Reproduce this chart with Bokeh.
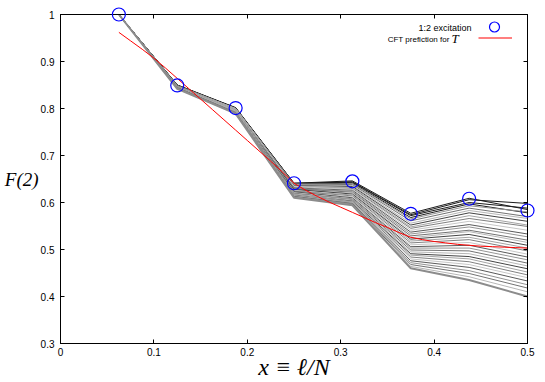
from bokeh.plotting import figure
from bokeh.models import (Range1d, FixedTicker, PrintfTickFormatter, LinearAxis,
                          Label, Legend, LegendItem, ColumnDataSource)
from bokeh.core.properties import value
from bokeh.embed import file_html
from bokeh.resources import INLINE

# ---------------- data ----------------
x_positions = [0.0625, 0.125, 0.1875, 0.25, 0.3125, 0.375, 0.4375, 0.5]
excitation = [1.0, 0.849, 0.801, 0.641, 0.645, 0.576, 0.608, 0.583]

# bundle of sampled curves: value of every curve at each x position (top -> bottom)
curves_at_0_0625 = [1.0, 1.0, 1.0, 1.0, 1.0, 1.0, 1.0, 1.0, 1.0, 1.0, 1.0, 1.0, 1.0, 1.0, 1.0, 1.0,
                    1.0, 1.0, 1.0, 1.0, 1.0, 1.0, 1.0, 1.0, 1.0, 1.0, 1.0, 1.0, 1.0, 1.0, 1.0, 1.0]
curves_at_0_125 = [0.850, 0.850, 0.849, 0.849, 0.849, 0.848, 0.848, 0.848, 0.847, 0.847, 0.847, 0.846,
                   0.846, 0.846, 0.846, 0.845, 0.845, 0.845, 0.845, 0.844, 0.844, 0.844, 0.844, 0.844,
                   0.843, 0.843, 0.843, 0.843, 0.843, 0.843, 0.842, 0.842]
curves_at_0_1875 = [0.802, 0.801, 0.800, 0.801, 0.800, 0.799, 0.800, 0.798, 0.799, 0.797, 0.798, 0.796,
                    0.797, 0.795, 0.796, 0.794, 0.795, 0.793, 0.794, 0.792, 0.793, 0.791, 0.792, 0.791,
                    0.790, 0.791, 0.790, 0.790, 0.790, 0.790, 0.789, 0.789]
curves_at_0_25 = [0.641, 0.640, 0.641, 0.639, 0.638, 0.640, 0.637, 0.636, 0.635, 0.633, 0.634, 0.631,
                  0.630, 0.629, 0.627, 0.628, 0.625, 0.624, 0.622, 0.623, 0.620, 0.619, 0.618, 0.616,
                  0.617, 0.615, 0.614, 0.613, 0.612, 0.611, 0.611, 0.610]
curves_at_0_3125 = [0.646, 0.644, 0.643, 0.641, 0.640, 0.638, 0.636, 0.634, 0.632, 0.630, 0.628, 0.626,
                    0.624, 0.622, 0.620, 0.618, 0.616, 0.614, 0.612, 0.610, 0.608, 0.606, 0.605, 0.603,
                    0.602, 0.600, 0.599, 0.598, 0.597, 0.596, 0.595, 0.594]
curves_at_0_375 = [0.577, 0.574, 0.572, 0.568, 0.565, 0.561, 0.556, 0.552, 0.548, 0.545, 0.541, 0.537,
                   0.533, 0.529, 0.525, 0.522, 0.518, 0.514, 0.510, 0.506, 0.503, 0.499, 0.495, 0.491,
                   0.488, 0.484, 0.480, 0.476, 0.472, 0.468, 0.464, 0.460]
curves_at_0_4375 = [0.609, 0.606, 0.600, 0.597, 0.593, 0.588, 0.583, 0.578, 0.572, 0.566, 0.560, 0.553,
                    0.548, 0.541, 0.538, 0.532, 0.526, 0.521, 0.515, 0.509, 0.503, 0.497, 0.491, 0.485,
                    0.480, 0.474, 0.468, 0.462, 0.455, 0.449, 0.442, 0.435]
curves_at_0_5 = [0.585, 0.598, 0.588, 0.578, 0.580, 0.570, 0.566, 0.560, 0.552, 0.549, 0.541, 0.533,
                 0.527, 0.520, 0.515, 0.509, 0.503, 0.497, 0.490, 0.484, 0.478, 0.471, 0.465, 0.459,
                 0.452, 0.446, 0.440, 0.433, 0.425, 0.418, 0.410, 0.400]

# CFT prediction curve
cft_x = [0.0625, 0.075, 0.0875, 0.1, 0.1125, 0.125, 0.1375, 0.15, 0.1625, 0.175, 0.1875, 0.2,
         0.2125, 0.225, 0.2375, 0.25, 0.2625, 0.275, 0.2875, 0.3, 0.3125, 0.325, 0.3375, 0.35,
         0.3625, 0.375, 0.3875, 0.4, 0.4125, 0.425, 0.4375, 0.45, 0.4625, 0.475, 0.4875, 0.5]
cft_y = [0.962, 0.944, 0.926, 0.907, 0.886, 0.864, 0.842, 0.820, 0.798, 0.776, 0.754, 0.732,
         0.710, 0.688, 0.665, 0.641, 0.626, 0.613, 0.601, 0.590, 0.579, 0.568, 0.557, 0.547,
         0.536, 0.526, 0.521, 0.517, 0.514, 0.511, 0.509, 0.507, 0.506, 0.505, 0.504, 0.503]

x_ticks = [0, 0.1, 0.2, 0.3, 0.4, 0.5]
y_ticks = [0.3, 0.4, 0.5, 0.6, 0.7, 0.8, 0.9, 1.0]

# ---------------- figure ----------------
p = figure(width=545, height=382, output_backend="svg", toolbar_location=None,
           x_range=Range1d(0, 0.5), y_range=Range1d(0.3, 1.0),
           min_border_left=60, min_border_right=18, min_border_top=14, min_border_bottom=39)
p.background_fill_color = "white"
p.border_fill_color = "white"
p.grid.visible = False
p.outline_line_color = "black"
p.outline_line_width = 1

TICK_FONT = "Liberation Sans"
for ax in (p.xaxis[0], p.yaxis[0]):
    ax.major_tick_in = 4
    ax.major_tick_out = 0
    ax.minor_tick_line_color = None
    ax.axis_line_color = "black"
    ax.major_tick_line_color = "black"
    ax.major_label_text_font = TICK_FONT
    ax.major_label_text_font_size = "10px"
    ax.major_label_text_color = "black"
    ax.formatter = PrintfTickFormatter(format="%g")

p.xaxis[0].ticker = FixedTicker(ticks=x_ticks)
p.yaxis[0].ticker = FixedTicker(ticks=y_ticks)
p.xaxis[0].major_label_standoff = 4
p.yaxis[0].major_label_standoff = 6

p.xaxis[0].axis_label = "x ≡ ℓ/N"
p.xaxis[0].axis_label_text_font = "Liberation Serif"
p.xaxis[0].axis_label_text_font_style = "italic"
p.xaxis[0].axis_label_text_font_size = "24px"
p.xaxis[0].axis_label_text_color = "black"
p.xaxis[0].axis_label_standoff = -5

p.yaxis[0].axis_label = "F(2)"
p.yaxis[0].axis_label_orientation = "horizontal"
p.yaxis[0].axis_label_text_font = "Liberation Serif"
p.yaxis[0].axis_label_text_font_style = "italic"
p.yaxis[0].axis_label_text_font_size = "19px"
p.yaxis[0].axis_label_text_color = "black"
p.yaxis[0].axis_label_standoff = -1

# mirrored axes (ticks only) on top and right
top = LinearAxis(ticker=FixedTicker(ticks=x_ticks), major_label_text_font_size="0px",
                 major_label_text_color=None,
                 major_tick_in=4, major_tick_out=0, minor_tick_line_color=None,
                 major_label_standoff=0, axis_line_color="black", major_tick_line_color="black")
right = LinearAxis(ticker=FixedTicker(ticks=y_ticks), major_label_text_font_size="0px",
                   major_label_text_color=None,
                   major_tick_in=4, major_tick_out=0, minor_tick_line_color=None,
                   major_label_standoff=0, axis_line_color="black", major_tick_line_color="black")
p.add_layout(top, "above")
p.add_layout(right, "right")

# bundle of gray curves (dark ones first, lighter ones drawn on top)
columns = [curves_at_0_0625, curves_at_0_125, curves_at_0_1875, curves_at_0_25,
           curves_at_0_3125, curves_at_0_375, curves_at_0_4375, curves_at_0_5]
n_curves = len(curves_at_0_125)
shades = ["#a4a4a4", "#808080", "#c6c6c6", "#5a5a5a", "#949494", "#727272", "#b6b6b6", "#444444"]
xs, ys, cols, widths = [], [], [], []
for i in range(n_curves):
    xs.append(list(x_positions))
    ys.append([c[i] for c in columns])
    cols.append("#1c1c1c" if i < 4 else shades[i % len(shades)])
    widths.append(1)
cols[-1] = "#8c8c8c"
widths[-1] = 2
p.multi_line(xs="xs", ys="ys", line_color="color", line_width="w",
             source=ColumnDataSource(dict(xs=xs, ys=ys, color=cols, w=widths)))

# CFT prediction
red = p.line(cft_x, cft_y, line_color="#ff0000", line_width=1)

# excitation markers
circ = p.scatter(x_positions, excitation, marker="circle", size=13, fill_color=None,
                 line_color="#0000ff", line_width=1.2, level="overlay")

# legend keys (gnuplot style: text right-aligned, key at the right); hidden twins of the
# plotted renderers, used only for the key glyphs
circ_key = p.scatter(x_positions, excitation, marker="circle", size=10, fill_color=None,
                     line_color="#0000ff", line_width=1.2, visible=False)
red_key = p.line(cft_x, cft_y, line_color="#ff0000", line_width=1.2, visible=False)
leg1 = Legend(items=[LegendItem(label=value(""), renderers=[circ_key])], location=(417, 304),
              glyph_width=34, glyph_height=25, label_width=0, label_height=0, label_standoff=0,
              padding=0, margin=0, spacing=0, border_line_color=None, background_fill_alpha=0,
              label_text_font_size="1px")
leg2 = Legend(items=[LegendItem(label=value(""), renderers=[red_key])], location=(418, 299),
              glyph_width=34, glyph_height=13, label_width=0, label_height=0, label_standoff=0,
              padding=0, margin=0, spacing=0, border_line_color=None, background_fill_alpha=0,
              label_text_font_size="1px")
p.add_layout(leg1)
p.add_layout(leg2)

p.add_layout(Label(x=411, y=316, x_units="screen", y_units="screen", text="1:2 excitation",
                   text_align="right", text_baseline="middle", text_font=TICK_FONT,
                   text_font_size="9px", text_color="black"))
p.add_layout(Label(x=389, y=304, x_units="screen", y_units="screen", text="CFT prefiction for",
                   text_align="right", text_baseline="middle", text_font=TICK_FONT,
                   text_font_size="8px", text_color="black"))
p.add_layout(Label(x=391, y=305, x_units="screen", y_units="screen", text="T",
                   text_align="left", text_baseline="middle", text_font="Liberation Serif",
                   text_font_style="italic", text_font_size="13px", text_color="black"))

open("out.html", "w").write(file_html(p, INLINE))
